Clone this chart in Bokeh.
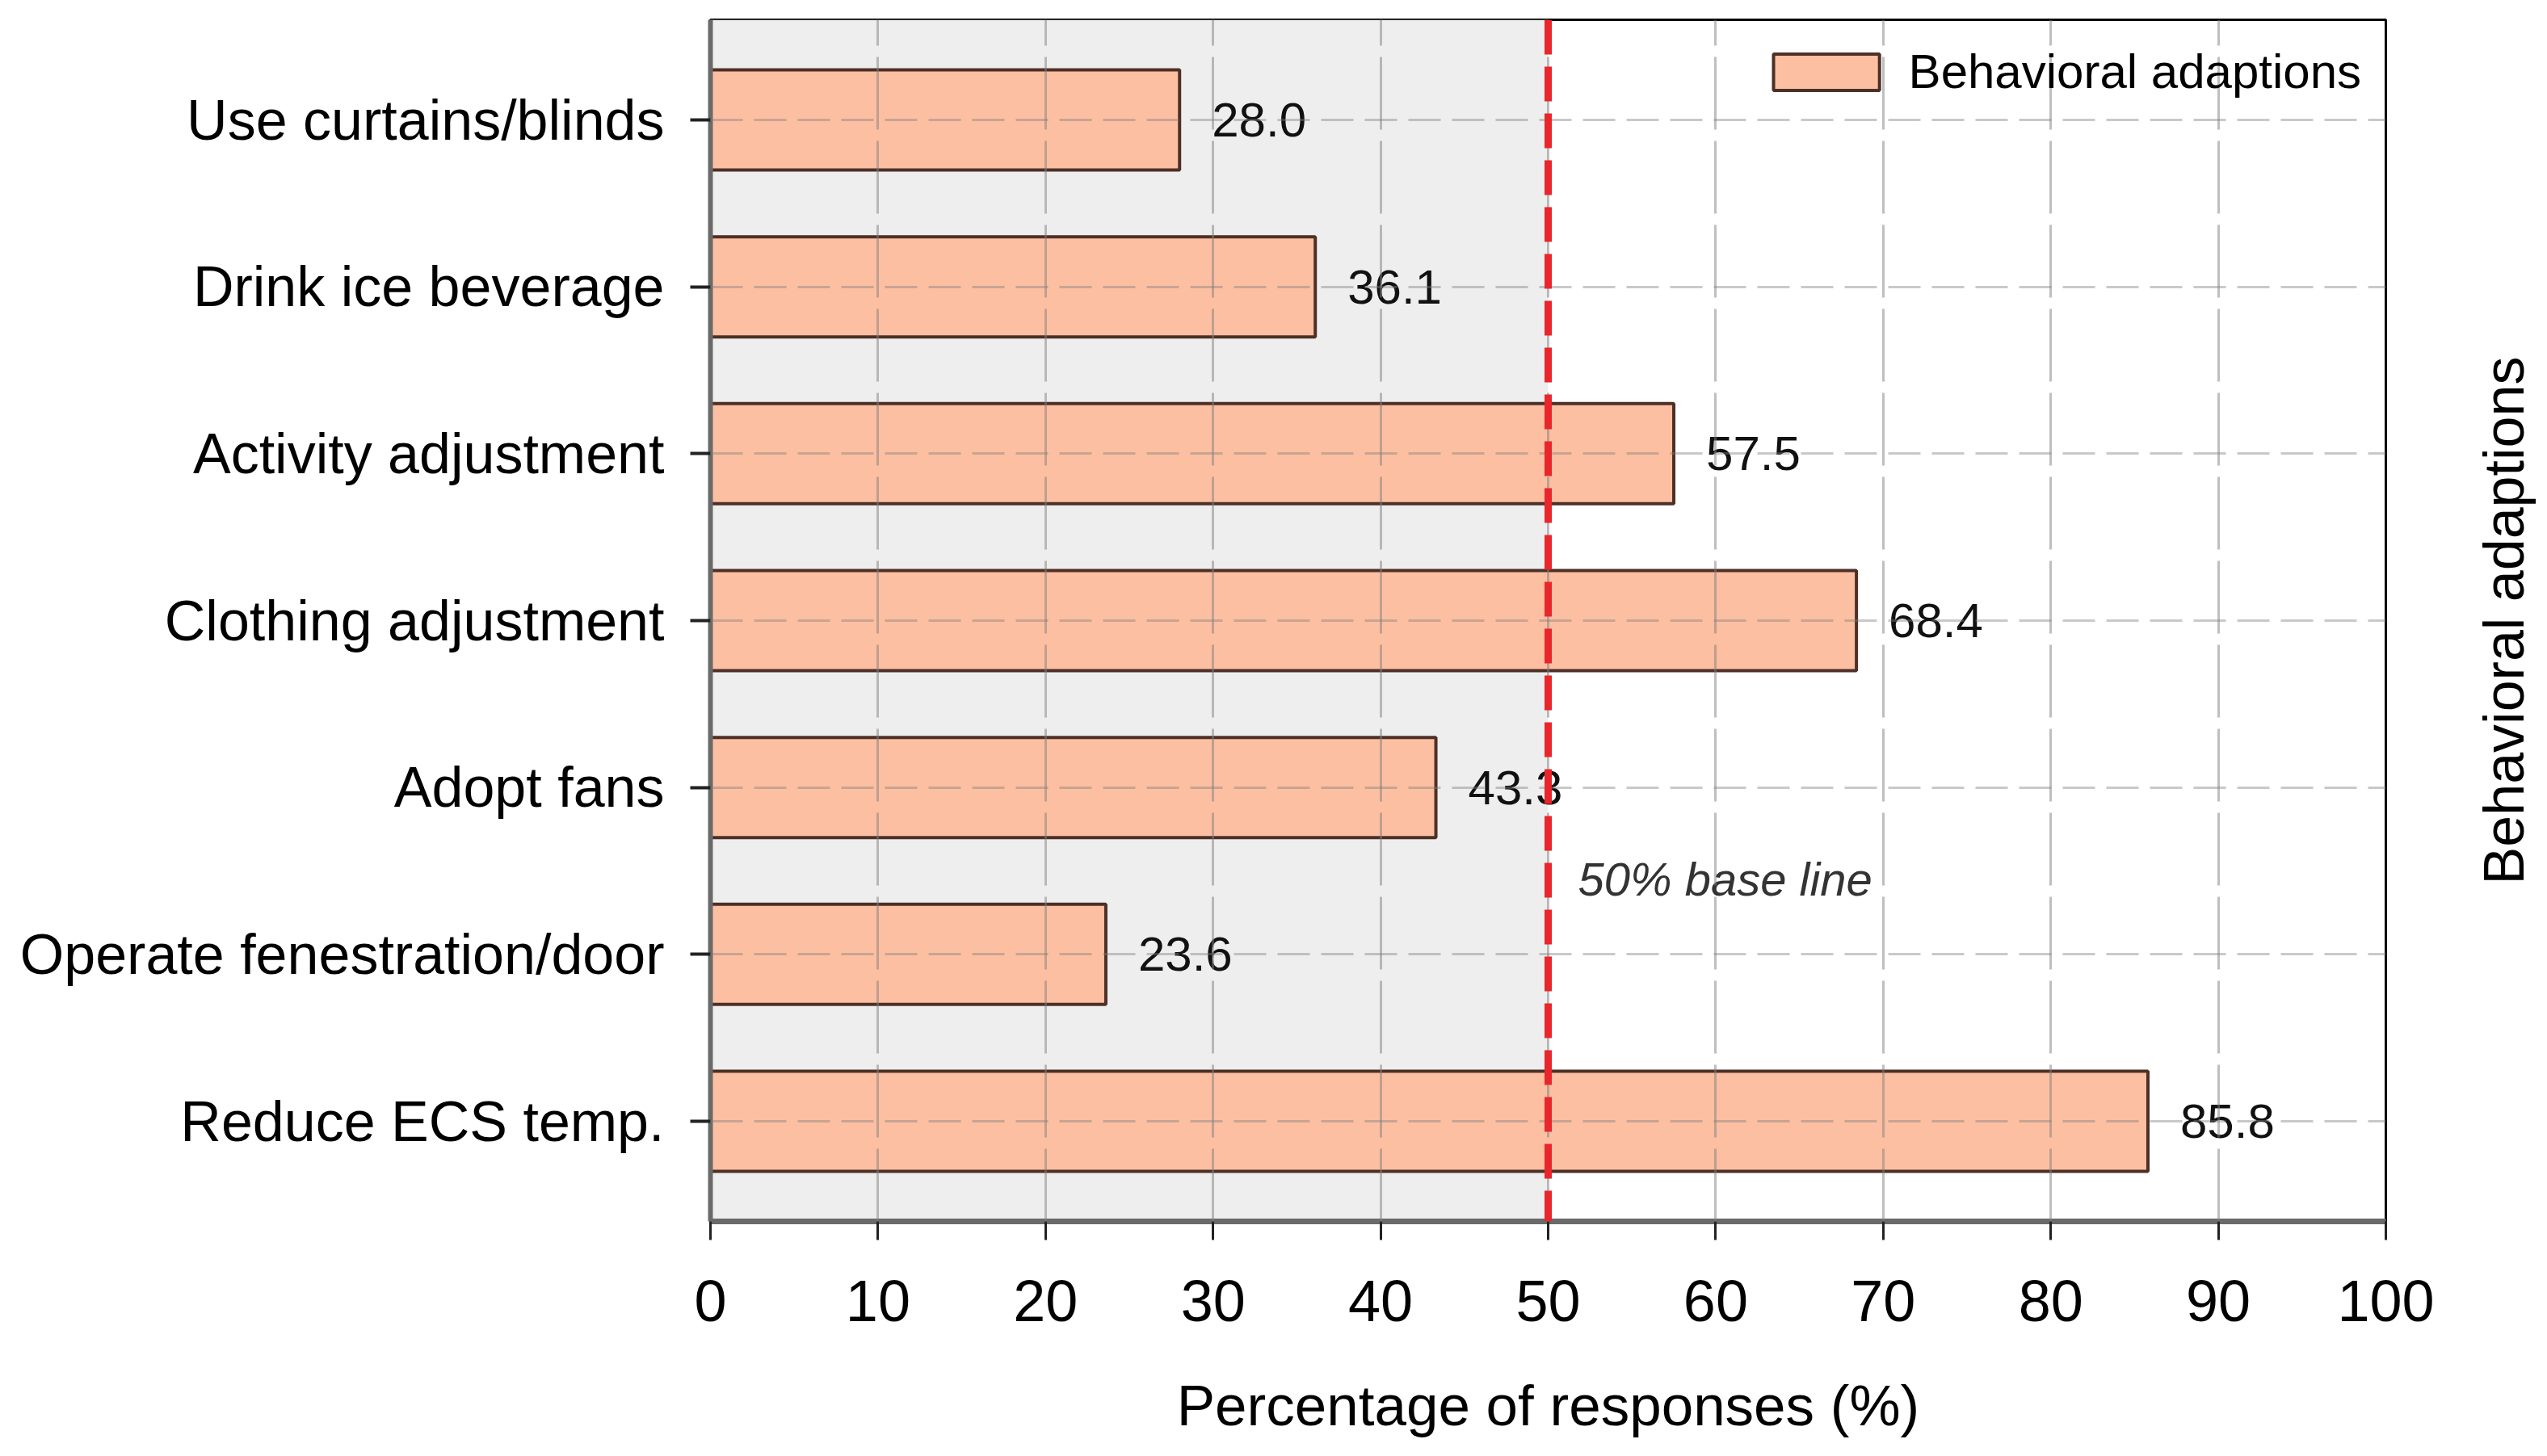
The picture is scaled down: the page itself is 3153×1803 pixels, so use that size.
import math
from bokeh.plotting import figure
from bokeh.layouts import row
from bokeh.models import (FixedTicker, BoxAnnotation, Span, Label, ColumnDataSource,
                          Range1d)
from bokeh.core.properties import value
from bokeh.embed import file_html
from bokeh.resources import INLINE

# ---- data (top to bottom as in the chart) ----
categories = ["Use curtains/blinds", "Drink ice beverage", "Activity adjustment",
              "Clothing adjustment", "Adopt fans", "Operate fenestration/door",
              "Reduce ECS temp."]
percentages = [28.0, 36.1, 57.5, 68.4, 43.3, 23.6, 85.8]
x_ticks = [0, 10, 20, 30, 40, 50, 60, 70, 80, 90, 100]
series_name = "Behavioral adaptions"
baseline_value = 50
baseline_text = "50% base line"
x_title = "Percentage of responses (%)"
right_title = "Behavioral adaptions"

FONT = "Liberation Sans"
n = len(categories)
ypos = [n - 1 - i for i in range(n)]
labels = [f"{v:.1f}" for v in percentages]

src = ColumnDataSource(dict(y=ypos, v=percentages, lab=labels, cat=categories))

FW, FH = 2074, 1488
TOP, BOTTOM = 24, 283
RIGHT_GAP = 75
Y0, Y1 = -0.6, n - 1 + 0.6
yr = Range1d(Y0, Y1)
p = figure(frame_width=FW, frame_height=FH, output_backend="svg", toolbar_location=None,
           x_range=Range1d(0, 100), y_range=yr,
           min_border_left=879, min_border_right=RIGHT_GAP, min_border_top=TOP,
           min_border_bottom=BOTTOM)
p.background_fill_color = "white"
p.border_fill_color = "white"
p.outline_line_color = "black"
p.outline_line_width = 3

# grey shading left of 50%
p.add_layout(BoxAnnotation(left=0, right=baseline_value, fill_color="#eeeeee",
                           fill_alpha=1.0, line_alpha=0, level="underlay"))

# bars
p.hbar(y="y", right="v", left=0, height=0.6, source=src, fill_color="#fdbfa1",
       line_color="#4d3027", line_width=4, legend_label=series_name)

# value labels
p.text(x="v", y="y", text="lab", source=src, x_offset=40, text_baseline="middle",
       text_align="left", text_font=value(FONT), text_font_size="60px", text_color="#111111")

# grids above bars
p.xgrid.ticker = FixedTicker(ticks=x_ticks[1:-1])
p.xgrid.grid_line_color = "#7f7f7f"
p.xgrid.grid_line_alpha = 0.5
p.xgrid.grid_line_width = 3
p.xgrid.grid_line_dash = "90 14"
p.xgrid.level = "overlay"
p.ygrid.ticker = FixedTicker(ticks=ypos)
p.ygrid.grid_line_color = "#7f7f7f"
p.ygrid.grid_line_alpha = 0.42
p.ygrid.grid_line_width = 3
p.ygrid.grid_line_dash = "40 14"
p.ygrid.level = "overlay"

# red 50% line
p.add_layout(Span(location=baseline_value, dimension="height", line_color="#e8262b",
                  line_width=9, line_dash="43 15", level="overlay"))
p.add_layout(Label(x=baseline_value, y=1.5, x_offset=37, y_offset=-10, text=baseline_text,
                   text_font=FONT, text_font_size="58px", text_font_style="italic",
                   text_color="#333333", text_baseline="middle", text_align="left"))

# x axis
xa = p.xaxis[0]
xa.ticker = FixedTicker(ticks=x_ticks)
xa.axis_label = x_title
xa.axis_label_text_font = FONT
xa.axis_label_text_font_size = "71px"
xa.axis_label_text_font_style = "normal"
xa.axis_label_text_color = "black"
xa.axis_label_standoff = 62
xa.major_label_text_font = FONT
xa.major_label_text_font_size = "72px"
xa.major_label_text_color = "black"
xa.major_label_standoff = 50
xa.axis_line_color = "#6a6a6a"
xa.axis_line_width = 7
xa.major_tick_line_color = "#222222"
xa.major_tick_line_width = 3
xa.major_tick_out = 23
xa.major_tick_in = 0
xa.minor_tick_line_color = None

# y axis
ya = p.yaxis[0]
ya.ticker = FixedTicker(ticks=ypos)
ya.major_label_overrides = {yy: c for yy, c in zip(ypos, categories)}
ya.major_label_text_font = FONT
ya.major_label_text_font_size = "70px"
ya.major_label_text_color = "black"
ya.major_label_standoff = 32
ya.axis_line_color = "#6a6a6a"
ya.axis_line_width = 6
ya.major_tick_line_color = "#222222"
ya.major_tick_line_width = 4
ya.major_tick_out = 25
ya.major_tick_in = 0
ya.minor_tick_line_color = None

# legend
lg = p.legend[0]
lg.location = "top_right"
lg.margin = 30
lg.padding = 38
lg.background_fill_alpha = 0
lg.border_line_color = None
lg.label_text_font = FONT
lg.label_text_font_size = "60px"
lg.label_text_color = "black"
lg.glyph_width = 164
lg.glyph_height = 56
lg.label_standoff = 20
lg.label_height = 56

# right-side title: a narrow companion figure whose (left) axis label reads bottom-to-top
p2 = figure(frame_width=1, frame_height=FH, output_backend="svg", toolbar_location=None,
            y_range=yr, x_range=Range1d(0, 1),
            min_border_left=185 - RIGHT_GAP, min_border_right=0, min_border_top=TOP,
            min_border_bottom=BOTTOM)
p2.outline_line_color = None
p2.background_fill_color = "white"
p2.border_fill_color = "white"
p2.xaxis.visible = False
p2.xgrid.visible = False
p2.ygrid.visible = False
a2 = p2.yaxis[0]
a2.ticker = FixedTicker(ticks=[])
a2.axis_line_color = None
a2.major_tick_line_color = None
a2.minor_tick_line_color = None
a2.major_label_text_font_size = "0px"
a2.axis_label = right_title
a2.axis_label_text_font = FONT
a2.axis_label_text_font_size = "70px"
a2.axis_label_text_font_style = "normal"
a2.axis_label_text_color = "black"
a2.axis_label_standoff = 0

layout = row(p, p2)
open("out.html", "w").write(file_html(layout, INLINE))
